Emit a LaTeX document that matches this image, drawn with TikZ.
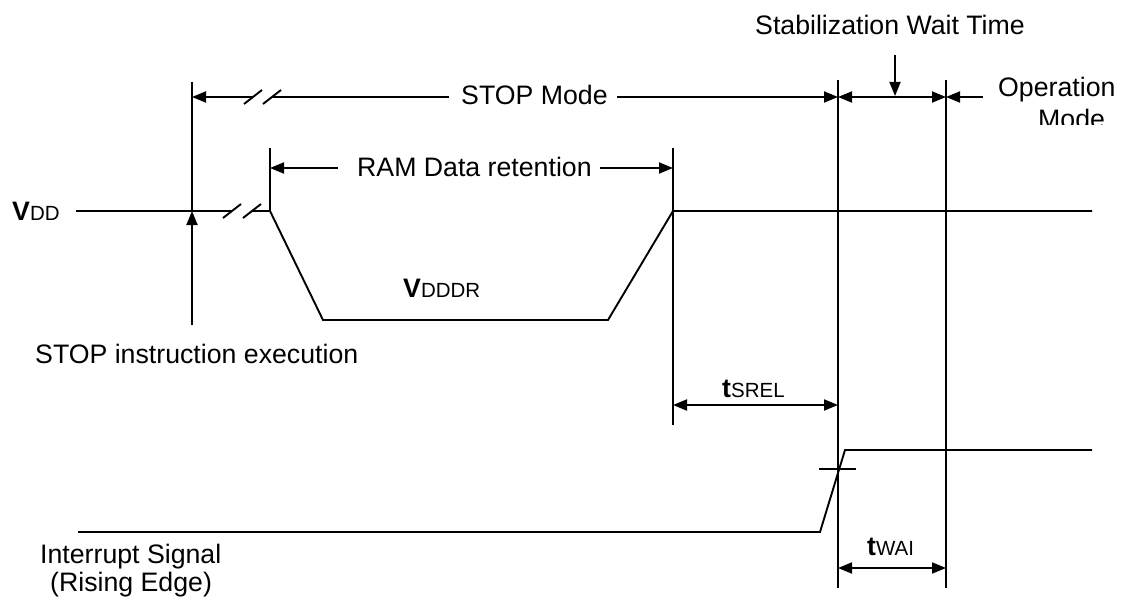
\documentclass[tikz,border=0pt]{standalone}
\usepackage{fontspec}
\setmainfont{Liberation Sans}
\usetikzlibrary{arrows.meta}
\newcommand\smtxt[1]{{\fontsize{20.5}{24}\selectfont #1}}
\begin{document}
\begin{tikzpicture}[x=1pt,y=-1pt,
  wire/.style={line width=1.9pt},
  tip/.tip={Triangle[length=14pt,width=11pt]},
  dim/.style={line width=1.9pt,-tip},
  ddim/.style={line width=1.9pt,tip-tip},
  lbl/.style={inner sep=0pt,anchor=base west,font=\fontsize{26.7}{30}\selectfont},
  brk/.style={line width=1.9pt}]
\useasboundingbox (0,0) rectangle (1131,604);
% named coordinates
\coordinate (L1t) at (192,82);   \coordinate (L1b) at (192,211);
\coordinate (L2t) at (270,148);  \coordinate (L2b) at (270,211);
\coordinate (L3t) at (673,148);  \coordinate (L3b) at (673,425);
\coordinate (L4t) at (838,80);   \coordinate (L4b) at (838,588);
\coordinate (L5t) at (946,80);   \coordinate (L5b) at (946,588);
% vertical reference lines
\draw[wire] (L1t) -- (L1b);
\draw[wire] (L2t) -- (L2b);
\draw[wire] (L3t) -- (L3b);
\draw[wire] (L4t) -- (L4b);
\draw[wire] (L5t) -- (L5b);
% texts
\node[lbl] (stab) at (755,35) {Stabilization Wait Time};
\node[lbl] (stop) at (461,105) {STOP Mode};
\node[lbl] (ram) at (357,177) {RAM Data retention};
\node[lbl] (vdd) at (12,220) {\textbf{V}\smtxt{DD}};
\node[lbl] (vdddr) at (403,297) {\textbf{V}\smtxt{DDDR}};
\node[lbl] (stopex) at (35,363) {STOP instruction execution};
\node[lbl] (tsrel) at (722,397) {\textbf{t}\smtxt{SREL}};
\node[lbl] (twai) at (867,555) {\textbf{t}\smtxt{WAI}};
\node[lbl] (intr) at (40,563) {Interrupt Signal};
\node[lbl] (rise) at (50,591) {(Rising Edge)};
\node[lbl] (oper) at (998,97) {Operation};
\begin{scope}
  \clip (990,100) rectangle (1131,125);
  \node[lbl] (mode) at (1038,129) {Mode};
\end{scope}
% STOP Mode dimension with break
\coordinate (sa) at (L1t |- 0,97);
\coordinate (sb) at (L4t |- 0,97);
\draw[dim] (253,97) -- (sa);
\draw[wire] (272,97) -- (449,97);
\draw[dim] (617,97) -- (sb);
\draw[brk] (244,104) -- (262,90);
\draw[brk] (263,104) -- (281,90);
% stabilization and operation mode arrows
\coordinate (sc) at (L5t |- 0,97);
\draw[ddim] (sb) -- (sc);
\coordinate (stabTop) at (895,55);
\coordinate (stabTip) at (895,96);
\draw[dim] (stabTop) -- (stabTip);
\coordinate (opStart) at (983,97);
\draw[dim] (opStart) -- (sc);
% RAM data retention arrows
\coordinate (ra) at (L2t |- 0,168);
\coordinate (rb) at (L3t |- 0,168);
\draw[dim] (338,168) -- (ra);
\draw[dim] (600,168) -- (rb);
% VDD waveform
\coordinate (v0) at (76,211);
\draw[wire] (v0) -- (232,211);
\draw[brk] (223,218) -- (241,204);
\draw[brk] (243,218) -- (261,204);
\draw[wire] (252,211) -- (L2b) -- (323,320) -- (608,320) -- (L3t |- 0,211) -- (1092,211);
% STOP instruction arrow
\coordinate (sx) at (192,325);
\draw[dim] (sx) -- (L1b);
% tSREL
\draw[ddim] (L3t |- 0,405) -- (L4t |- 0,405);
% interrupt signal
\draw[wire] (78,532) -- (820,532) -- (845,450) -- (1092,450);
\draw[wire] (819,469) -- (856,469);
% tWAI
\draw[ddim] (L4t |- 0,568) -- (L5t |- 0,568);
\end{tikzpicture}
\end{document}
